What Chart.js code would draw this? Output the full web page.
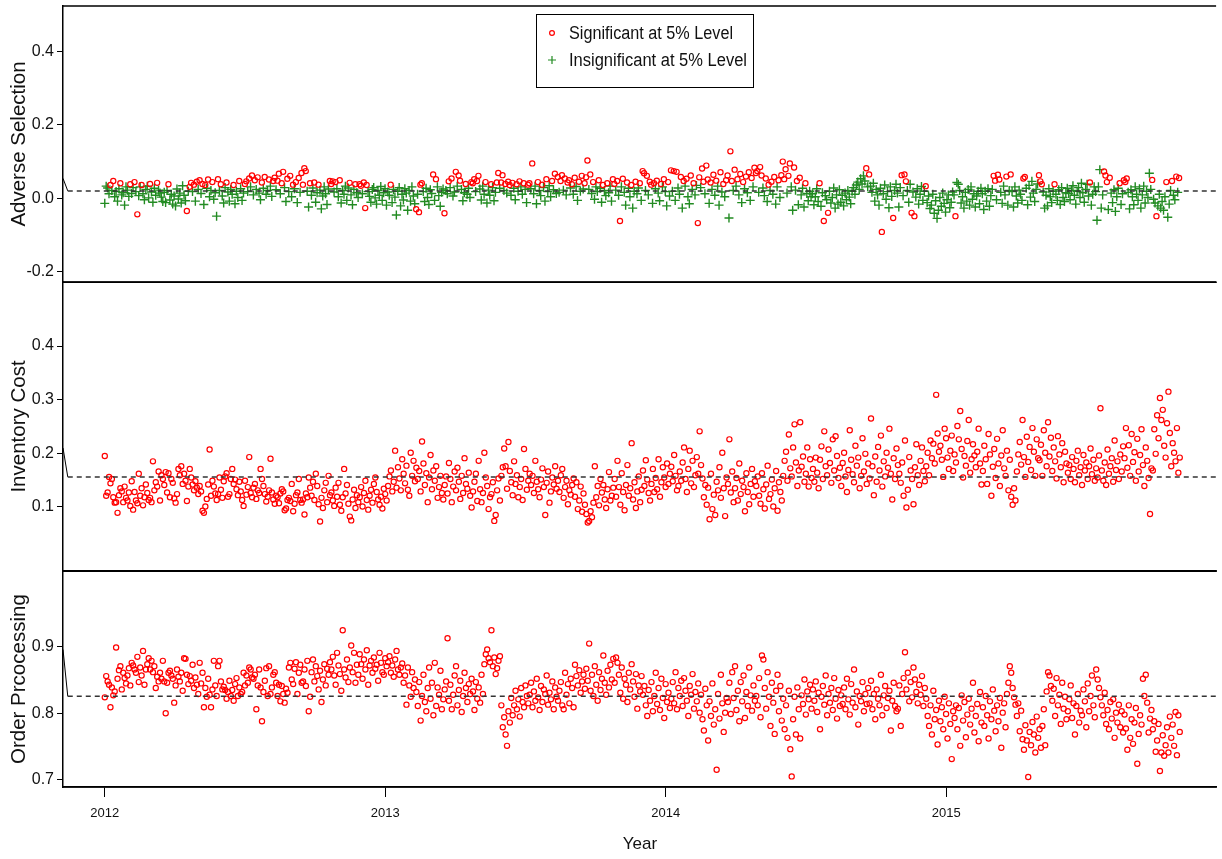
<!DOCTYPE html>
<html>
<head>
<meta charset="utf-8">
<script src="https://cdn.jsdelivr.net/npm/chart.js@4.4.1/dist/chart.umd.min.js"></script>
<style>
  html, body { margin: 0; padding: 0; background: #fff; }
  #wrap { position: relative; width: 1222px; height: 859px; overflow: hidden; }
  canvas { position: absolute; left: 0; }
</style>
</head>
<body>
<div id="wrap">
  <canvas id="adverse" width="1222" height="288" style="top:0px;width:1222px;height:288px"></canvas>
  <canvas id="inventory" width="1222" height="299" style="top:277px;width:1222px;height:299px"></canvas>
  <canvas id="order" width="1222" height="293" style="top:566px;width:1222px;height:293px"></canvas>
</div>
<script>
// daily observations, one per trading day from the start of 2012
var firstDate = 2012.0;
var dayStep = 0.00505;
var xMin = 2011.851, xMax = 2015.965;
var yearTicks = [2012, 2013, 2014, 2015];
var yearLabels = ["2012", "2013", "2014", "2015"];

var adverseTicks = [-0.2, 0.0, 0.2, 0.4];
var adverseTickLabels = ["-0.2", "0.0", "0.2", "0.4"];
var inventoryTicks = [0.1, 0.2, 0.3, 0.4];
var inventoryTickLabels = ["0.1", "0.2", "0.3", "0.4"];
var orderTicks = [0.7, 0.8, 0.9];
var orderTickLabels = ["0.7", "0.8", "0.9"];

// sample means (dashed lines) and the short lead-in stroke at the axis
var adverseMean = 0.020, inventoryMean = 0.156, orderMean = 0.8255;
var adverseLead = 0.054, inventoryLead = 0.21, orderLead = 0.896;
var leadEnd = 2011.868;

var adverseValues = [
  -.014,.033,.028,.012,.036,.021,.047,.004,.018,-.008,.026,.041,.009,.015,-.019,.031,.022,.005,.038,.013,
  .029,.044,.018,-.044,.007,.031,.036,.012,-.004,.024,.033,.001,.039,.017,-.011,.027,.008,.042,.022,.014,
  .003,-.009,.016,-.012,.021,.038,-.005,.011,-.016,.006,-.021,.025,-.002,.014,-.013,.034,.008,-.007,-.035,.019,
  .031,.042,.018,.037,-.008,.045,.024,.049,.013,.039,-.017,.036,.027,.051,.004,.021,.044,-.003,.015,-.049,
  .052,.021,.038,.006,-.013,.029,.043,.017,-.008,.024,.011,.036,-.015,.019,.002,.047,.026,-.006,.014,.039,
  .046,.018,.054,.031,.062,.009,.049,.024,.057,.014,-.004,.043,.027,.058,.011,.021,.051,.033,.005,.047,
  .056,.023,.048,.067,.012,.041,.072,.029,-.009,.053,.018,.061,.004,.037,.026,.044,-.012,.055,.016,.069,
  .037,.082,.074,.019,-.024,.041,.008,.028,.043,-.011,.015,.037,.022,-.029,.006,.031,.012,-.017,.025,.047,
  .039,.046,.017,.044,.026,.004,.049,-.013,.021,.011,.033,-.006,.028,.042,.009,-.018,.024,.038,.015,.002,
  .038,.034,.012,.043,-.027,.036,.018,.005,-.011,.024,.029,.001,-.016,.021,.008,.032,-.006,.015,.026,-.019,
  .017,.008,.037,-.012,.024,.003,-.046,.019,.029,-.021,.011,-.005,.026,.014,-.033,.021,-.008,.031,.006,-.015,
  -.030,.011,-.038,.037,.041,.018,-.009,.027,.002,-.017,.023,.013,.065,-.006,.052,.031,.007,-.022,.016,.025,
  -.041,.021,.012,.046,.029,.054,.006,.017,.072,.033,.062,.048,.024,-.007,.015,.039,.011,.027,.002,.044,
  .041,.052,.018,.047,.061,.025,-.005,.033,.011,.044,-.013,.022,.008,.038,.029,-.007,.016,.043,.069,.027,
  .043,.063,.021,.039,.014,.045,.036,.008,.042,.027,-.004,.038,.019,.046,.031,.011,.041,.024,-.012,.037,
  .041,.026,.095,.012,.033,-.015,.044,.021,.007,.037,.029,-.008,.052,.018,.034,.004,.047,.023,.067,.013,
  .058,.016,.047,.063,.022,.054,.009,.043,.049,.028,.038,.011,.056,.032,-.006,.045,.019,.061,.025,.041,
  .057,.103,.024,.065,.013,.044,-.003,.031,.018,.049,.027,-.011,.036,.021,.007,.041,.015,.033,-.008,.052,
  .039,.022,.047,.008,-.062,.031,.053,.016,-.019,.043,.027,.004,.036,-.027,.019,.045,.012,.028,.041,-.006,
  .074,.068,.021,.061,.009,.045,.037,-.014,.041,.026,.048,.014,-.007,.039,.031,.052,.018,-.021,.044,.006,
  .076,.019,.074,-.006,.072,.028,.011,.058,-.027,.047,.033,.053,.004,-.015,.062,.024,.041,.009,.035,-.068,
  .057,.029,.081,.045,.012,.089,.051,-.014,.043,.024,.064,.008,.048,.033,-.019,.071,.017,.039,.004,.049,
  .062,-.054,.128,.047,.021,.078,.033,.052,.009,.066,-.012,.044,.026,.059,.015,.071,-.006,.055,.031,.083,
  .069,.074,.016,.085,.062,.028,.007,.054,-.009,.037,.021,.045,.011,.058,-.016,.031,.049,.002,.063,.100,
  .052,.079,.014,.061,.095,.031,-.033,.084,.022,.047,-.018,.056,.009,.027,-.024,.041,.013,-.007,.019,.004,
  .012,-.018,.004,.026,-.009,.041,-.022,.015,-.062,.007,-.004,-.040,.019,-.013,.002,.028,-.027,.009,-.016,.023,
  -.011,.008,-.021,.014,-.004,.021,.003,-.015,.019,.029,.011,.036,.044,.024,.053,.039,.061,.047,.082,.031,
  .065,.033,.016,.041,-.008,.024,.009,-.019,.027,-.092,.012,.036,-.003,.018,-.026,.031,.005,-.054,.021,.038,
  .014,-.024,.029,.063,.007,.065,.046,.021,-.011,.038,-.040,.017,-.049,.003,.026,-.016,.011,.032,-.006,.019,
  .033,-.012,.006,-.028,-.019,.011,-.041,-.007,-.055,-.033,.002,-.022,.014,-.014,-.038,-.004,.009,-.026,-.011,.017,
  .009,-.049,.043,.038,.021,-.013,.004,-.027,.016,-.008,.024,-.019,.031,-.003,.012,-.024,.006,.019,-.015,.027,
  .012,-.031,.019,-.008,.026,-.022,.007,.024,.061,.048,-.004,.064,.051,.016,-.014,.033,.009,.059,-.019,.021,
  .065,.018,-.024,.031,.006,-.013,.022,.011,-.006,.054,.058,.027,-.018,.035,.003,.046,.014,-.009,.024,.039,
  .063,.046,.038,.017,-.027,.008,-.021,.026,.004,-.012,.019,.038,.011,-.006,.023,-.017,.029,.002,-.009,.015,
  .027,.013,-.004,.021,.034,.008,-.016,.019,.029,.002,.041,.015,-.011,.024,.038,.006,.043,-.019,.011,.031,
  .018,-.060,.031,.078,-.027,.009,.073,.062,.044,-.031,.056,.014,-.012,.023,-.036,.004,.027,.041,-.017,.012,
  .049,.044,.054,.016,-.029,.023,.004,-.018,.031,.011,-.006,.026,-.027,.009,.033,-.013,.019,.002,.068,.024,
  .050,-.003,-.013,-.049,-.021,.011,-.027,-.009,-.033,.004,.044,-.052,-.016,.021,.047,.008,-.004,.059,.016,.055
];

// 1 = significant at 5% level, 0 = insignificant (same order as adverseValues)
var adverseSignificant = [
  "00001010000100000010", "01010010000010000100", "00000100000000000010", "11010101010101001000",
  "10100010000100010001", "10101010100101001001", "10110110010101010101", "11100100100100000001",
  "11010010000001000100", "11011100000000000000", "00100000000000000000", "10111000000010100000",
  "10010100101100010001", "11011000010001000110", "11010110100101001001", "10100010010010001010",
  "10110101101010010101", "11010100010010010001", "10101010010010010010", "11010110101001010010",
  "10101001010100101001", "10110110101010010101", "10110101010101010101", "11011001010101001011",
  "11011001010100010000", "00000100100100000000", "00000000000000000010", "10000000010000000100",
  "00010110001010000000", "10000000000000000000", "01000000000000000000", "00000000110110000100",
  "10000000011000000000", "11100000000100000000", "00000000000000001000", "00000011101000000100",
  "11100000000000000000", "10010000001000100101"
].join("");

var inventoryValues = [
  .195,.121,.127,.156,.144,.152,.118,.108,.109,.089,.122,.135,.129,.109,.138,.117,.112,.127,.102,.148,
  .095,.128,.112,.107,.162,.121,.135,.103,.118,.142,.126,.113,.117,.109,.185,.131,.146,.138,.166,.112,
  .159,.152,.141,.165,.127,.163,.118,.152,.145,.116,.108,.124,.171,.159,.176,.143,.162,.149,.111,.138,
  .171,.155,.142,.131,.148,.136,.124,.139,.129,.093,.089,.101,.115,.142,.207,.121,.149,.138,.125,.113,
  .124,.155,.132,.117,.148,.157,.163,.119,.124,.152,.171,.143,.151,.133,.122,.147,.129,.113,.102,.149,
  .123,.137,.193,.126,.118,.136,.143,.115,.131,.126,.171,.152,.139,.124,.110,.119,.131,.190,.127,.114,
  .106,.121,.118,.107,.125,.133,.129,.094,.097,.113,.117,.111,.143,.092,.106,.122,.127,.152,.113,.108,
  .114,.086,.125,.118,.155,.136,.121,.147,.113,.162,.139,.105,.073,.117,.098,.131,.145,.109,.158,.122,
  .127,.112,.102,.136,.119,.145,.104,.093,.118,.171,.125,.141,.106,.082,.075,.114,.132,.098,.122,.109,
  .118,.137,.101,.126,.149,.113,.095,.121,.132,.108,.143,.155,.128,.114,.104,.119,.097,.134,.124,.112,
  .139,.157,.168,.129,.147,.205,.136,.174,.153,.131,.189,.162,.144,.177,.132,.121,.201,.158,.186,.148,
  .173,.152,.167,.129,.222,.181,.141,.163,.109,.155,.197,.133,.168,.149,.176,.117,.137,.158,.126,.114,
  .141,.157,.125,.182,.152,.109,.138,.166,.131,.173,.147,.115,.158,.126,.191,.143,.134,.164,.121,.099,
  .129,.147,.162,.111,.186,.133,.109,.126,.201,.155,.139,.096,.118,.124,.146,.074,.085,.131,.153,.112,
  .158,.174,.209,.176,.134,.221,.167,.146,.122,.185,.143,.159,.118,.137,.152,.113,.208,.171,.132,.149,
  .162,.141,.158,.126,.186,.147,.133,.118,.151,.172,.137,.085,.145,.166,.108,.129,.155,.142,.176,.134,
  .149,.128,.159,.171,.117,.137,.149,.105,.131,.123,.141,.153,.119,.146,.096,.112,.138,.091,.125,.104,
  .087,.071,.074,.092,.081,.108,.176,.118,.139,.103,.152,.127,.141,.114,.098,.133,.165,.112,.121,.136,
  .152,.119,.186,.137,.104,.163,.128,.094,.141,.178,.121,.135,.219,.114,.146,.098,.129,.157,.109,.132,
  .168,.139,.187,.151,.126,.112,.143,.171,.128,.154,.133,.189,.119,.146,.174,.155,.137,.181,.143,.162,
  .175,.148,.197,.158,.131,.139,.166,.149,.183,.211,.152,.128,.171,.205,.144,.186,.137,.159,.193,.162,
  .241,.178,.153,.118,.141,.104,.136,.077,.162,.096,.123,.085,.147,.131,.174,.117,.201,.135,.083,.155,
  .143,.226,.127,.166,.109,.135,.154,.112,.181,.124,.149,.137,.092,.163,.128,.105,.143,.171,.119,.148,
  .139,.157,.121,.106,.163,.133,.097,.142,.177,.115,.124,.151,.101,.135,.167,.093,.146,.128,.112,.158,
  .186,.203,.149,.235,.172,.157,.211,.254,.183,.139,.168,.258,.175,.194,.147,.162,.211,.138,.189,.154,
  .171,.147,.192,.164,.135,.188,.213,.152,.241,.176,.159,.207,.182,.145,.226,.168,.232,.195,.154,.173,
  .139,.182,.201,.157,.128,.169,.243,.188,.161,.146,.214,.177,.192,.135,.158,.228,.166,.199,.143,.181,
  .153,.265,.176,.122,.194,.147,.212,.168,.233,.138,.185,.157,.201,.173,.246,.162,.114,.191,.152,.209,
  .178,.162,.145,.183,.121,.224,.099,.132,.193,.168,.152,.105,.174,.217,.159,.141,.186,.211,.167,.148,
  .176,.201,.159,.224,.191,.218,.181,.309,.237,.203,.214,.188,.156,.246,.228,.192,.171,.205,.233,.167,
  .198,.183,.251,.226,.279,.208,.155,.195,.177,.223,.262,.164,.189,.217,.196,.174,.203,.246,.181,.142,
  .167,.214,.189,.143,.236,.198,.121,.175,.208,.154,.227,.181,.139,.196,.243,.172,.158,.205,.131,.188,
  .119,.104,.135,.112,.166,.198,.221,.179,.262,.193,.156,.231,.184,.212,.169,.247,.203,.158,.226,.191,
  .187,.216,.158,.243,.201,.176,.258,.194,.229,.167,.211,.185,.153,.232,.198,.174,.219,.146,.203,.181,
  .164,.178,.152,.193,.171,.146,.186,.205,.159,.174,.141,.197,.168,.183,.152,.176,.209,.161,.188,.149,
  .172,.155,.196,.284,.168,.149,.183,.141,.207,.162,.176,.191,.147,.224,.169,.185,.152,.198,.166,.213,
  .191,.247,.173,.215,.158,.236,.184,.202,.149,.227,.166,.197,.245,.178,.139,.211,.186,.154,.087,.172,
  .168,.245,.199,.271,.228,.303,.262,.281,.214,.192,.256,.315,.238,.176,.219,.201,.185,.247,.164,.192
];

var orderValues = [
  .824,.856,.848,.843,.809,.839,.827,.833,.899,.852,.865,.871,.836,.861,.853,.845,.857,.868,.842,.876,
  .872,.866,.861,.885,.847,.869,.857,.894,.843,.866,.874,.883,.866,.879,.862,.871,.838,.855,.848,.861,
  .852,.879,.848,.800,.846,.861,.864,.857,.852,.816,.842,.866,.855,.848,.861,.834,.883,.882,.858,.844,
  .856,.849,.873,.838,.854,.843,.829,.876,.845,.861,.809,.838,.825,.852,.828,.809,.836,.879,.842,.826,
  .871,.879,.848,.836,.840,.835,.822,.832,.849,.826,.835,.819,.844,.853,.826,.839,.829,.832,.861,.842,
  .857,.846,.869,.866,.854,.852,.858,.806,.842,.866,.839,.788,.832,.849,.868,.826,.871,.829,.839,.858,
  .862,.846,.826,.843,.818,.841,.829,.816,.837,.831,.869,.876,.851,.844,.867,.877,.829,.861,.873,.846,
  .848,.866,.841,.879,.803,.825,.862,.881,.848,.871,.856,.836,.864,.817,.851,.874,.842,.867,.858,.877,
  .866,.885,.857,.843,.891,.872,.859,.834,.925,.866,.854,.881,.847,.869,.902,.862,.891,.846,.873,.858,
  .889,.874,.852,.881,.866,.895,.843,.872,.879,.861,.884,.867,.873,.849,.891,.876,.862,.858,.883,.871,
  .877,.886,.861,.872,.855,.881,.894,.866,.858,.869,.875,.846,.857,.813,.869,.842,.825,.862,.838,.851,
  .832,.811,.847,.789,.826,.858,.817,.803,.838,.869,.822,.846,.797,.876,.811,.839,.828,.864,.806,.821,
  .836,.848,.913,.819,.843,.806,.828,.857,.871,.812,.835,.849,.802,.826,.861,.838,.817,.844,.829,.852,
  .833,.805,.847,.822,.839,.816,.858,.829,.874,.889,.896,.883,.877,.925,.871,.884,.859,.868,.879,.886,
  .812,.779,.794,.768,.751,.803,.786,.823,.797,.812,.834,.806,.821,.795,.838,.817,.809,.842,.826,.815,
  .828,.846,.809,.833,.819,.852,.824,.805,.841,.817,.836,.829,.857,.813,.831,.821,.848,.806,.839,.825,
  .819,.834,.847,.812,.806,.861,.828,.844,.815,.852,.838,.809,.873,.856,.842,.865,.831,.848,.858,.837,
  .867,.849,.905,.834,.858,.826,.871,.843,.819,.862,.835,.852,.887,.846,.828,.864,.839,.873,.851,.882,
  .846,.884,.876,.858,.831,.869,.822,.852,.843,.817,.861,.836,.874,.848,.825,.859,.807,.842,.833,.856,
  .828,.841,.812,.796,.835,.819,.847,.803,.826,.861,.814,.838,.805,.852,.823,.793,.844,.817,.831,.808,
  .822,.847,.815,.862,.806,.838,.826,.849,.811,.853,.834,.819,.796,.841,.828,.859,.807,.832,.818,.845,
  .801,.828,.791,.774,.837,.812,.759,.818,.796,.845,.783,.806,.715,.829,.792,.858,.815,.772,.801,.823,
  .817,.846,.799,.862,.823,.871,.805,.834,.788,.847,.818,.857,.793,.832,.811,.869,.827,.804,.842,.819,
  .826,.812,.853,.794,.887,.881,.838,.807,.862,.825,.781,.846,.816,.769,.834,.858,.803,.841,.789,.822,
  .776,.812,.763,.834,.746,.705,.791,.825,.768,.839,.806,.762,.827,.814,.851,.798,.833,.821,.843,.807,
  .836,.819,.848,.802,.831,.776,.825,.841,.813,.857,.797,.829,.816,.838,.805,.853,.822,.792,.835,.811,
  .827,.814,.839,.806,.852,.821,.798,.844,.816,.866,.809,.833,.783,.826,.818,.847,.803,.829,.814,.838,
  .815,.849,.806,.829,.791,.836,.822,.812,.858,.797,.827,.841,.808,.823,.834,.774,.819,.846,.811,.803,
  .807,.842,.781,.829,.853,.892,.836,.861,.818,.847,.824,.869,.851,.832,.815,.843,.828,.856,.811,.838,
  .822,.796,.781,.812,.768,.834,.791,.805,.753,.819,.788,.809,.776,.825,.799,.762,.815,.784,.731,.803,
  .793,.812,.776,.808,.751,.827,.789,.817,.764,.798,.822,.783,.807,.846,.771,.796,.814,.758,.832,.786,
  .809,.781,.826,.797,.762,.818,.791,.836,.804,.773,.812,.788,.823,.748,.801,.815,.779,.829,.846,.871,
  .861,.838,.824,.813,.796,.815,.773,.804,.761,.745,.782,.759,.704,.772,.752,.787,.768,.741,.795,.763,
  .776,.748,.781,.806,.752,.833,.862,.857,.841,.819,.837,.796,.853,.812,.828,.784,.846,.807,.825,.791,
  .803,.821,.842,.793,.815,.768,.811,.829,.786,.804,.797,.836,.818,.779,.845,.803,.826,.857,.812,.794,
  .866,.851,.838,.824,.812,.797,.831,.784,.805,.776,.817,.792,.821,.763,.801,.786,.813,.779,.803,.771,
  .798,.777,.745,.812,.763,.791,.754,.786,.808,.724,.769,.797,.783,.852,.826,.858,.816,.771,.792,.805,
  .776,.788,.742,.759,.784,.713,.741,.767,.736,.752,.779,.741,.795,.763,.783,.751,.802,.737,.797,.772
];

var FONT = '"Liberation Sans", Arial, sans-serif';
var RED = "#ff0000";
var GREEN = "#228b22";

function toPoints(values) {
    var pts = [];
    for (var i = 0; i < values.length; i++) {
        pts.push({ x: firstDate + i * dayStep, y: values[i] });
    }
    return pts;
}

//Red hollow circles
function sigStyle(data) {
    return { data: data, pointStyle: "circle", pointRadius: 2.6, pointBorderWidth: 1.2,
             pointBorderColor: RED, pointBackgroundColor: "rgba(0,0,0,0)", showLine: false };
}

//Green plus signs
function insigStyle(data) {
    return { data: data, pointStyle: "cross", pointRadius: 4.5, pointBorderWidth: 1.4,
             pointBorderColor: GREEN, pointBackgroundColor: GREEN, showLine: false };
}

//Dashed mean line plus the short lead-in stroke at the axis
function meanLines(mean, lead) {
    return [
        { data: [{ x: leadEnd, y: mean }, { x: xMax, y: mean }], showLine: true, pointRadius: 0,
          borderColor: "#333", borderWidth: 1.5, borderDash: [5, 4] },
        { data: [{ x: xMin, y: lead }, { x: leadEnd, y: mean }], showLine: true, pointRadius: 0,
          borderColor: "#000", borderWidth: 1 }
    ];
}

function yAxis(min, max, ticks, labels, title) {
    return {
        type: "linear", min: min, max: max,
        afterBuildTicks: function (s) { s.ticks = ticks.map(function (v) { return { value: v }; }); },
        afterFit: function (s) { s.width = 63; s.paddingTop = 0; s.paddingBottom = 0; },
        ticks: { callback: function (v, i) { return labels[i]; }, font: { family: FONT, size: 16 },
                 color: "#111", padding: 3 },
        grid: { drawOnChartArea: false, drawTicks: true, tickLength: 6, color: "#000", tickWidth: 1 },
        border: { display: true, color: "#000", width: 1.5 },
        title: { display: true, text: title, font: { family: FONT, size: 20.5 }, color: "#111",
                 padding: { top: 7, bottom: 0 } }
    };
}

var hiddenX = { type: "linear", min: xMin, max: xMax, display: false };

var yearAxis = {
    type: "linear", min: xMin, max: xMax,
    afterBuildTicks: function (s) { s.ticks = yearTicks.map(function (v) { return { value: v }; }); },
    afterFit: function (s) { s.height = 72; s.paddingLeft = 0; s.paddingRight = 0; },
    ticks: { callback: function (v, i) { return yearLabels[i]; }, font: { family: FONT, size: 13 },
             color: "#111", padding: 9, maxRotation: 0, autoSkip: false },
    grid: { drawOnChartArea: false, drawTicks: true, tickLength: 10, color: "#000" },
    border: { display: true, color: "#000", width: 1.5 },
    title: { display: true, text: "Year", font: { family: FONT, size: 17 }, color: "#111",
             padding: { top: 0, bottom: 4 } }
};

//Top and bottom edges of each panel
var framePlugin = {
    id: "frame",
    afterDraw: function (chart) {
        var ctx = chart.ctx, a = chart.chartArea;
        ctx.save();
        ctx.strokeStyle = "#000";
        ctx.lineWidth = 1.5;
        ctx.beginPath();
        ctx.moveTo(a.left, a.top); ctx.lineTo(a.right, a.top);
        ctx.moveTo(a.left, a.bottom); ctx.lineTo(a.right, a.bottom);
        ctx.stroke();
        ctx.restore();
    }
};

//Draw text squeezed sideways to the target width, like the original narrow lettering
function squeezedText(ctx, text, x, y, width) {
    var w = ctx.measureText(text).width;
    ctx.save();
    ctx.translate(x, y);
    ctx.scale(width / w, 1);
    ctx.fillText(text, 0, 0);
    ctx.restore();
}

//Boxed legend at the top of the first panel
var legendPlugin = {
    id: "boxLegend",
    afterDraw: function (chart) {
        var ctx = chart.ctx;
        ctx.save();
        ctx.fillStyle = "#fff";
        ctx.fillRect(536, 14, 217, 73);
        ctx.strokeStyle = "#000";
        ctx.lineWidth = 1;
        ctx.strokeRect(536.5, 14.5, 217, 73);

        ctx.strokeStyle = RED;
        ctx.lineWidth = 1.2;
        ctx.beginPath();
        ctx.arc(552, 33, 2.4, 0, Math.PI * 2);
        ctx.stroke();

        ctx.strokeStyle = GREEN;
        ctx.lineWidth = 1.2;
        ctx.beginPath();
        ctx.moveTo(548, 60); ctx.lineTo(556, 60);
        ctx.moveTo(552, 56); ctx.lineTo(552, 64);
        ctx.stroke();

        ctx.fillStyle = "#111";
        ctx.font = "18px " + FONT;
        ctx.textBaseline = "middle";
        ctx.textAlign = "left";
        squeezedText(ctx, "Significant at 5% Level", 569, 34, 164);
        squeezedText(ctx, "Insignificant at 5% Level", 569, 61, 178);
        ctx.restore();
    }
};

function baseOptions(xScale, yScale, pad) {
    return {
        responsive: false,
        animation: false,
        devicePixelRatio: 1,
        layout: { padding: pad },
        scales: { x: xScale, y: yScale },
        plugins: { legend: { display: false }, tooltip: { enabled: false } },
        events: []
    };
}

// Panel 1: adverse selection, split by significance
var adverseAll = toPoints(adverseValues);
var adverseSig = [], adverseInsig = [];
for (var i = 0; i < adverseAll.length; i++) {
    if (adverseSignificant.charAt(i) === "1") adverseSig.push(adverseAll[i]);
    else adverseInsig.push(adverseAll[i]);
}

new Chart(document.getElementById("adverse"), {
    type: "scatter",
    data: { datasets: meanLines(adverseMean, adverseLead).concat([sigStyle(adverseSig), insigStyle(adverseInsig)]) },
    options: baseOptions(hiddenX, yAxis(-0.229, 0.525, adverseTicks, adverseTickLabels, "Adverse Selection"),
                         { top: 5, bottom: 2, left: 0, right: 0 }),
    plugins: [framePlugin, legendPlugin]
});

// Panel 2: inventory cost
new Chart(document.getElementById("inventory"), {
    type: "scatter",
    data: { datasets: meanLines(inventoryMean, inventoryLead).concat([sigStyle(toPoints(inventoryValues))]) },
    options: baseOptions(hiddenX, yAxis(-0.019, 0.519, inventoryTicks, inventoryTickLabels, "Inventory Cost"),
                         { top: 2, bottom: 2, left: 0, right: 0 }),
    plugins: [framePlugin]
});

// Panel 3: order processing, with the year axis
new Chart(document.getElementById("order"), {
    type: "scatter",
    data: { datasets: meanLines(orderMean, orderLead).concat([sigStyle(toPoints(orderValues))]) },
    options: baseOptions(yearAxis, yAxis(0.689, 1.014, orderTicks, orderTickLabels, "Order Prcocessing"),
                         { top: 2, bottom: 0, left: 0, right: 0 }),
    plugins: [framePlugin]
});
</script>
</body>
</html>
